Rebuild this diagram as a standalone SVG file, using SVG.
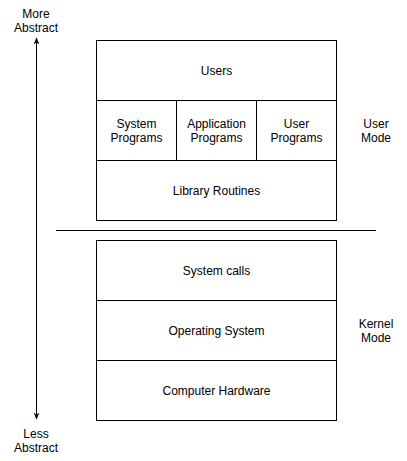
<svg xmlns="http://www.w3.org/2000/svg" width="407" height="461" viewBox="0 0 407 461">
<defs>
<style>
rect{fill:#fff;stroke:#000;stroke-width:1}
text{font-family:"Liberation Sans",Arial,sans-serif;font-size:12px;fill:#000;text-anchor:middle}
.c{fill:none;stroke:#000;stroke-width:1}
</style>
<marker id="ah" viewBox="0 0 10 10" refX="9" refY="5" markerWidth="7" markerHeight="7" orient="auto-start-reverse" markerUnits="userSpaceOnUse">
<path d="M0,1 L10,5 L0,9 L2.5,5 Z" fill="#000"/>
</marker>
</defs>
<rect x="0" y="0" width="407" height="461" style="fill:#fff;stroke:none"/>
<g id="connectors">
<line class="c" x1="36.5" y1="38" x2="36.5" y2="419" marker-start="url(#ah)" marker-end="url(#ah)"/>
<line class="c" x1="56" y1="230.5" x2="376" y2="230.5"/>
</g>
<g id="users"><rect x="96.5" y="40.5" width="240" height="60"/><text x="216.5" y="74.5">Users</text></g>
<g id="sysprog"><rect x="96.5" y="100.5" width="80" height="60"/><text x="136.5" y="127.5">System</text><text x="136.5" y="142">Programs</text></g>
<g id="appprog"><rect x="176.5" y="100.5" width="80" height="60"/><text x="216.5" y="127.5">Application</text><text x="216.5" y="142">Programs</text></g>
<g id="userprog"><rect x="256.5" y="100.5" width="80" height="60"/><text x="296.5" y="127.5">User</text><text x="296.5" y="142">Programs</text></g>
<g id="lib"><rect x="96.5" y="160.5" width="240" height="60"/><text x="216.5" y="194.5">Library Routines</text></g>
<g id="syscalls"><rect x="96.5" y="240.5" width="240" height="60"/><text x="216.5" y="274.5">System calls</text></g>
<g id="os"><rect x="96.5" y="300.5" width="240" height="60"/><text x="216.5" y="334.5">Operating System</text></g>
<g id="hw"><rect x="96.5" y="360.5" width="240" height="60"/><text x="216.5" y="394.5">Computer Hardware</text></g>
<g id="more"><text x="36" y="17.5">More</text><text x="36" y="32">Abstract</text></g>
<g id="less"><text x="36" y="437.5">Less</text><text x="36" y="452">Abstract</text></g>
<g id="usermode"><text x="376" y="127.5">User</text><text x="376" y="142">Mode</text></g>
<g id="kernelmode"><text x="376" y="327.5">Kernel</text><text x="376" y="342">Mode</text></g>
</svg>
